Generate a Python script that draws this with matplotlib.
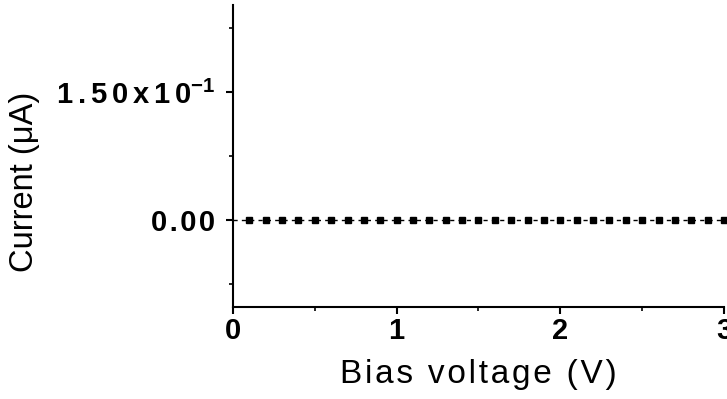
import numpy as np
import matplotlib
matplotlib.use("Agg")
import matplotlib.pyplot as plt
from matplotlib.ticker import FixedLocator, MultipleLocator

plt.rcParams["font.family"] = ["Liberation Sans", "DejaVu Sans"]
plt.rcParams["mathtext.fontset"] = "custom"
plt.rcParams["mathtext.rm"] = "Liberation Sans"
plt.rcParams["mathtext.bf"] = "Liberation Sans:bold"

# Data: bias sweep, current stays at zero
bias = [round(0.1 * i, 1) for i in range(31)]
current = [0.0] * 31

y_ticks = [0.0, 0.15]
y_labels = ["0.00", "1.50x10"]
x_ticks = [0, 1, 2, 3]


def spaced(s, sp="\u200a"):
    # crude letter spacing
    return sp.join(s)


fig = plt.figure(figsize=(7.27, 3.99), dpi=100)
ax = fig.add_axes([233 / 727, 1 - 307 / 399, 491 / 727, 302 / 399])

ax.plot(bias, current, color="black", lw=1.0, dashes=(3, 3),
        marker="s", ms=4.5, mfc="black", mec="black",
        markevery=slice(1, None), clip_on=False)

ax.set_xlim(0, 3)
ax.set_ylim(-0.102, 0.252)

ax.spines["top"].set_visible(False)
ax.spines["right"].set_visible(False)
for s in ("left", "bottom"):
    ax.spines[s].set_linewidth(1.5)

ax.xaxis.set_major_locator(FixedLocator(x_ticks))
ax.xaxis.set_minor_locator(MultipleLocator(0.5))
ax.yaxis.set_major_locator(FixedLocator(y_ticks))
ax.yaxis.set_minor_locator(MultipleLocator(0.075))

ax.set_xticklabels([str(t) for t in x_ticks], fontsize=21, fontweight="bold")
ylabs = [spaced(y_labels[0]),
         spaced(y_labels[1], "\u200a\u200a") + r"$^{\mathbf{-1}}$"]
ax.set_yticklabels(ylabs, fontsize=21, fontweight="bold")

ax.tick_params(which="major", direction="out", length=5, width=1.5)
ax.tick_params(which="minor", direction="out", length=3, width=1.2)
ax.tick_params(axis="y", which="major", pad=8)
ax.tick_params(axis="x", which="major", pad=2)

ax.set_xlabel(spaced("Bias voltage (V)"), fontsize=24, labelpad=10)
ax.set_ylabel("Current (\u03bcA)", fontsize=23.5)
ax.yaxis.set_label_coords((40 - 233) / 491, 0.414)

fig.savefig("out.png", dpi=100)
